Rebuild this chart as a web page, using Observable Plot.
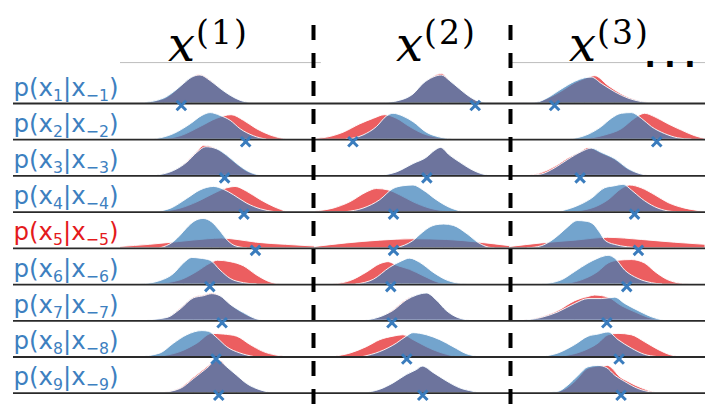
<!DOCTYPE html>
<html><head><meta charset="utf-8">
<script src="https://cdn.jsdelivr.net/npm/d3@7"></script>
<script src="https://cdn.jsdelivr.net/npm/@observablehq/plot@0.6"></script>
<style>html,body{margin:0;padding:0;background:#fff;} #chart svg{display:block;}</style>
</head><body><div id="chart"></div>
<script>
// ---- data ----
const rowIndex = [1, 2, 3, 4, 5, 6, 7, 8, 9];
const highlightedRow = 5;
const columnTitles = ["(1)", "(2)", "(3)"];

// each curve: [value, density] pairs, one curve per row (x_1 .. x_9)
const redX1 = [
  [[-4,0],[-2.77,.06],[-2.26,.15],[-1.74,.28],[-1.32,.37],[-0.95,.41],[-0.38,.33],[0.13,.21],[0.65,.11],[1.15,.04],[1.85,0]],
  [[-3.1,0],[-1.9,.05],[-0.9,.18],[-0.04,.30],[0.7,.35],[1.33,.27],[2.0,.15],[2.7,.06],[3.55,0]],
  [[-3.3,0],[-2.26,.07],[-1.57,.20],[-1.06,.34],[-0.7,.43],[-0.04,.38],[0.47,.28],[0.99,.16],[1.5,.06],[2.2,0]],
  [[-3.1,0],[-1.92,.05],[-1.06,.14],[-0.2,.26],[0.47,.34],[0.9,.36],[1.5,.29],[2.2,.17],[2.9,.07],[3.55,0]],
  [[-5,.02],[-3.5,.05],[-2,.09],[-0.5,.13],[0.2,.14],[1,.12],[2,.08],[3.5,.05],[5,.025]],
  [[-3.3,0],[-1.92,.06],[-1.06,.18],[-0.38,.30],[0,.34],[0.65,.32],[1.33,.26],[2.0,.13],[2.7,.03],[3.2,0]],
  [[-4,0],[-2.6,.04],[-1.92,.17],[-1.24,.33],[-0.73,.36],[-0.3,.39],[0.13,.35],[0.64,.23],[1.33,.10],[2.0,.02],[2.5,0]],
  [[-3.1,0],[-1.92,.07],[-1.06,.19],[-0.3,.33],[0.3,.32],[0.98,.29],[1.67,.17],[2.35,.07],[3.0,.02],[3.55,0]],
  [[-2.95,0],[-1.92,.07],[-1.24,.22],[-0.55,.37],[-0.1,.46],[0.13,.46],[0.47,.37],[0.98,.25],[1.5,.13],[2.2,.04],[2.9,0]]
];
const blueX1 = [
  [[-4,0],[-2.77,.07],[-2.26,.16],[-1.74,.28],[-1.32,.37],[-0.9,.40],[-0.38,.32],[0.13,.21],[0.65,.11],[1.15,.04],[1.85,0]],
  [[-3.3,0],[-2.26,.08],[-1.4,.22],[-0.8,.34],[-0.38,.38],[0.13,.34],[0.65,.27],[1.16,.15],[1.84,.05],[2.5,0]],
  [[-3.3,0],[-2.26,.07],[-1.57,.19],[-1.06,.33],[-0.6,.41],[-0.04,.38],[0.47,.29],[0.99,.17],[1.5,.07],[2.2,0]],
  [[-3.3,0],[-2.4,.05],[-1.57,.19],[-0.9,.31],[-0.2,.36],[0.3,.32],[0.82,.24],[1.5,.12],[2.2,.04],[2.9,0]],
  [[-2.95,0],[-2.26,.09],[-1.92,.18],[-1.6,.28],[-1.2,.38],[-0.74,.42],[-0.3,.37],[0.1,.25],[0.5,.11],[0.9,.03],[1.5,0]],
  [[-4,0],[-2.95,.05],[-2.26,.15],[-1.75,.30],[-1.32,.38],[-0.9,.37],[-0.38,.34],[0.13,.20],[0.65,.08],[1.33,.02],[2,0]],
  [[-4,0],[-2.6,.04],[-1.92,.16],[-1.24,.32],[-0.73,.35],[-0.3,.38],[0.13,.35],[0.64,.23],[1.33,.11],[2.0,.02],[2.5,0]],
  [[-4,0],[-2.95,.05],[-2.26,.19],[-1.58,.31],[-0.8,.37],[-0.47,.36],[0,.26],[0.47,.14],[1.15,.05],[1.85,0]],
  [[-2.95,0],[-1.92,.06],[-1.24,.20],[-0.55,.35],[-0.04,.46],[0.13,.45],[0.47,.37],[0.98,.25],[1.5,.13],[2.2,.04],[2.9,0]]
];
const redX2 = [
  [[-1.68,0],[-0.66,.04],[0.03,.13],[0.54,.28],[1.05,.38],[1.48,.42],[1.9,.32],[2.42,.20],[2.93,.09],[3.44,.02],[4.1,0]],
  [[-5,.01],[-4.4,.03],[-3.56,.10],[-2.7,.22],[-2.0,.30],[-1.43,.35],[-0.83,.30],[-0.15,.18],[0.54,.08],[1.4,.02],[2.1,0]],
  [[-1.68,0],[-0.83,.05],[0.03,.17],[0.71,.26],[1.14,.36],[1.43,.40],[1.9,.29],[2.42,.19],[2.93,.10],[3.6,.02],[4.1,0]],
  [[-5,.01],[-4.08,.05],[-3.22,.14],[-2.37,.28],[-1.85,.33],[-1.25,.31],[-0.66,.24],[0.03,.14],[0.88,.05],[1.7,.01],[2.2,0]],
  [[-5,.02],[-3.4,.07],[-1.68,.11],[0,.13],[1.73,.12],[3.44,.08],[5,.03]],
  [[-4.1,0],[-3.2,.05],[-2.37,.17],[-1.68,.29],[-1.25,.32],[-0.83,.27],[-0.15,.21],[0.54,.12],[1.4,.02],[2.1,0]],
  [[-2.54,0],[-1.68,.05],[-1.0,.15],[-0.32,.30],[0.2,.36],[0.71,.39],[1.22,.29],[1.73,.14],[2.42,.03],[3.1,0]],
  [[-4.1,0],[-3.2,.05],[-2.37,.14],[-1.68,.24],[-1.0,.29],[-0.49,.31],[0.03,.24],[0.71,.14],[1.4,.06],[2.1,.01],[2.6,0]],
  [[-2.54,0],[-1.68,.05],[-1.0,.14],[-0.32,.26],[0.2,.33],[0.5,.38],[1.05,.29],[1.73,.17],[2.42,.07],[3.1,.02],[3.44,0]]
];
const blueX2 = [
  [[-1.68,0],[-0.66,.04],[0.03,.13],[0.54,.28],[1.05,.37],[1.48,.40],[1.9,.32],[2.42,.20],[2.93,.09],[3.44,.02],[4.1,0]],
  [[-3.4,0],[-2.54,.06],[-1.85,.18],[-1.34,.33],[-1.0,.37],[-0.49,.33],[0.03,.25],[0.71,.10],[1.4,.03],[2.1,0]],
  [[-1.68,0],[-0.83,.05],[0.03,.17],[0.71,.26],[1.14,.36],[1.43,.40],[1.9,.29],[2.42,.19],[2.93,.10],[3.6,.02],[4.1,0]],
  [[-3.4,0],[-2.54,.05],[-1.68,.17],[-1.0,.33],[-0.49,.37],[0.03,.38],[0.54,.31],[1.22,.17],[1.9,.06],[2.6,0]],
  [[-0.83,0],[0,.10],[0.5,.22],[0.9,.30],[1.2,.33],[1.6,.34],[2.1,.32],[2.8,.20],[3.4,.07],[3.9,.01],[4.2,0]],
  [[-2.9,0],[-2.0,.07],[-1.17,.24],[-0.57,.33],[-0.15,.37],[0.37,.31],[1.05,.17],[1.73,.06],[2.42,.01],[2.8,0]],
  [[-2.54,0],[-1.68,.05],[-1.0,.14],[-0.32,.29],[0.2,.36],[0.71,.39],[1.22,.29],[1.73,.14],[2.42,.03],[3.1,0]],
  [[-2.54,0],[-1.68,.07],[-0.83,.19],[-0.32,.29],[0.03,.34],[0.71,.31],[1.4,.24],[2.08,.14],[2.76,.04],[3.44,0]],
  [[-2.54,0],[-1.68,.05],[-1.0,.14],[-0.32,.26],[0.2,.33],[0.5,.38],[1.05,.29],[1.73,.17],[2.42,.07],[3.1,.02],[3.44,0]]
];
const redX3 = [
  [[-4.9,0],[-3.7,.01],[-3.05,.07],[-2.37,.17],[-1.68,.29],[-1.17,.35],[-0.66,.39],[0.03,.25],[0.71,.13],[1.4,.05],[2.1,.01],[2.6,0]],
  [[-1.34,0],[-0.15,.06],[0.71,.15],[1.39,.30],[1.9,.37],[2.42,.32],[3.1,.22],[3.79,.13],[4.47,.05],[5,.01]],
  [[-4.08,0],[-3.4,.04],[-2.7,.13],[-2.03,.25],[-1.34,.35],[-1.0,.40],[-0.32,.32],[0.37,.23],[1.05,.09],[1.73,.02],[2.2,0]],
  [[-2.0,0],[-0.83,.05],[0.03,.17],[0.71,.33],[1.14,.38],[1.73,.34],[2.42,.24],[3.1,.13],[3.96,.05],[4.8,.01],[5,0]],
  [[-5,.02],[-3.4,.07],[-1.68,.11],[0,.15],[1.73,.12],[3.44,.08],[5,.05]],
  [[-2.5,0],[-1.34,.06],[-0.49,.18],[0.03,.30],[0.54,.34],[1.22,.35],[1.9,.30],[2.42,.18],[3.1,.06],[3.79,.01],[4.2,0]],
  [[-4.4,0],[-3.4,.05],[-2.54,.14],[-1.68,.28],[-1.0,.34],[-0.66,.36],[0.03,.33],[0.7,.21],[1.4,.12],[2.1,.04],[2.8,0]],
  [[-2.54,0],[-1.34,.07],[-0.49,.19],[0.03,.31],[0.54,.33],[1.22,.31],[1.9,.21],[2.59,.10],[3.27,.02],[3.8,0]],
  [[-2.9,0],[-2.2,.05],[-1.68,.16],[-1.0,.35],[-0.49,.38],[0.0,.39],[0.3,.33],[0.54,.25],[1.05,.16],[1.73,.07],[2.42,.01],[2.8,0]]
];
const blueX3 = [
  [[-4.9,0],[-3.7,.01],[-3.05,.08],[-2.37,.20],[-1.68,.31],[-1.17,.36],[-0.83,.37],[-0.32,.28],[0.37,.16],[1.05,.07],[1.73,.02],[2.4,0]],
  [[-2.0,0],[-1.0,.07],[-0.32,.18],[0.2,.30],[0.71,.37],[1.22,.38],[1.73,.30],[2.25,.18],[2.93,.08],[3.6,.02],[4.3,0]],
  [[-4.08,0],[-3.4,.02],[-2.7,.11],[-2.03,.23],[-1.34,.34],[-0.83,.39],[-0.32,.33],[0.37,.24],[1.05,.10],[1.73,.02],[2.2,0]],
  [[-2.54,0],[-1.68,.07],[-0.83,.19],[-0.15,.34],[0.37,.37],[0.8,.39],[1.22,.31],[1.73,.19],[2.42,.07],[3.1,.01],[3.5,0]],
  [[-4.1,0],[-3.4,.03],[-2.9,.10],[-2.4,.21],[-2.0,.31],[-1.56,.39],[-1.1,.38],[-0.74,.34],[-0.4,.22],[-0.1,.10],[0.5,.04],[1.2,.01],[1.6,0]],
  [[-3.4,0],[-2.37,.06],[-1.68,.18],[-1.0,.30],[-0.49,.37],[0.03,.41],[0.37,.37],[0.88,.20],[1.56,.08],[2.25,.02],[2.8,0]],
  [[-4.4,0],[-3.4,.04],[-2.54,.12],[-1.68,.24],[-1.0,.31],[-0.32,.31],[0.37,.33],[0.88,.24],[1.56,.14],[2.25,.05],[2.9,0]],
  [[-3.4,0],[-2.54,.05],[-1.68,.17],[-1.0,.29],[-0.49,.32],[0.03,.35],[0.54,.24],[1.22,.12],[1.9,.03],[2.5,0]],
  [[-3.4,0],[-2.54,.02],[-2.03,.11],[-1.5,.25],[-1.0,.37],[-0.49,.39],[-0.06,.36],[0.37,.25],[0.88,.16],[1.56,.06],[2.25,.01],[2.7,0]]
];
// observed value (blue cross) per row
const crossX1 = [-1.88, 1.42, 0.34, 1.33, 1.92, -0.42, 0.21, -0.1, 0.04];
const crossX2 = [3.19, -3.08, 0.71, -1.0, -1.0, -1.14, -1.08, -0.32, 0.5];
const crossX3 = [-2.74, 2.5, -1.43, 1.36, 1.56, 0.96, -0.06, 0.57, 0.67];

// ---- layout ----
const SPAN = 10;              // value units per column
const DENS = 70 / 36.2;       // density -> row units
const TOP = 9.13;             // top rule (row units)
const BLUE = "#377eb8", RED = "#e41a1c";

function flatten(cols, name) {
  const out = [];
  cols.forEach((rows, c) => rows.forEach((pts, r) => pts.forEach(([v, d]) =>
    out.push({key: name + c + "-" + r, x: c * SPAN + v, y1: 8 - r, y2: 8 - r + d * DENS}))));
  return out;
}
const redData = flatten([redX1, redX2, redX3], "r");
const blueData = flatten([blueX1, blueX2, blueX3], "b");
const crossData = [crossX1, crossX2, crossX3].flatMap((vals, c) => vals.map((v, r) => ({x: c * SPAN + v, y: 8 - r})));

const titleMark = (c, dx) => Plot.text([c], {
  x: d => d * SPAN, y: () => TOP, dy: -2, dx, text: d => "x" + columnTitles[d],
  textAnchor: "start", lineAnchor: "bottom", fontFamily: "DejaVu Serif", fontSize: 48, fill: "black"
});

const labelMark = (rows, color) => Plot.text(rows, {
  frameAnchor: "left", y: r => 9 - r, dy: -8, text: r => `p(x${r}|x−${r})`,
  textAnchor: "start", lineAnchor: "bottom", fontFamily: "DejaVu Sans", fontSize: 25, fill: color
});

const svg = Plot.plot({
  width: 705, height: 406,
  marginLeft: 13, marginRight: 0, marginTop: 25, marginBottom: 0,
  x: {domain: [-5, 25], range: [120, 705], axis: null},
  y: {domain: [0, 8], range: [392.7, 103], axis: null},
  style: {background: "white", overflow: "visible"},
  marks: [
    Plot.ruleY([0, 2], {y: () => TOP, x1: c => c * SPAN - 5, x2: c => c * SPAN + 5.3, stroke: "#bdbdbd", strokeWidth: 1}),
    Plot.areaY(redData, {x: "x", y1: "y1", y2: "y2", z: "key", fill: RED, fillOpacity: 0.7, stroke: "white", strokeWidth: 0.9, curve: "monotone-x"}),
    Plot.areaY(blueData, {x: "x", y1: "y1", y2: "y2", z: "key", fill: BLUE, fillOpacity: 0.7, stroke: "white", strokeWidth: 0.9, curve: "monotone-x"}),
    Plot.ruleY(rowIndex, {y: r => 9 - r, stroke: "#2a2a2a", strokeWidth: 1.8}),
    Plot.dot(crossData, {x: "x", y: "y", dy: 2, symbol: "times", r: 4.4, stroke: "#3a7cbd", strokeWidth: 3}),
    Plot.ruleX([5], {dx: -2, stroke: "black", strokeWidth: 4, strokeDasharray: "15,13"}),
    Plot.ruleX([15], {stroke: "black", strokeWidth: 4, strokeDasharray: "15,13"}),
    labelMark(rowIndex.filter(r => r !== highlightedRow), "#3d80c0"),
    labelMark(rowIndex.filter(r => r === highlightedRow), RED),
    titleMark(0, -50),
    titleMark(1, -17),
    titleMark(2, -39),
    Plot.text([2], {x: d => d * SPAN, y: () => TOP, dx: 62, dy: 4, text: () => "...", textAnchor: "middle", lineAnchor: "bottom",
      fontFamily: "DejaVu Sans Mono", fontWeight: "bold", fontSize: 33, fill: "black"})
  ]
});

// subscripts / superscripts
const s = d3.select(svg);
s.selectAll("text").each(function () {
  const content = this.textContent;
  const m = content.match(/^p\(x(\d+)\|x−(\d+)\)$/);
  if (m) {
    const t = d3.select(this).text(null);
    t.append("tspan").text("p(x");
    t.append("tspan").attr("font-size", 16).attr("dy", 5).text(m[1]);
    t.append("tspan").attr("dy", -5).text("|x");
    t.append("tspan").attr("font-size", 16).attr("dy", 5).text("−" + m[2]);
    t.append("tspan").attr("dy", -5).text(")");
    t.attr("textLength", 105).attr("lengthAdjust", "spacingAndGlyphs");
    return;
  }
  const m2 = content.match(/^x(\(\d+\))$/);
  if (m2) {
    const t = d3.select(this).text(null);
    t.append("tspan").attr("font-style", "italic").text("x");
    t.append("tspan").attr("font-size", 33).attr("dy", -17).attr("dx", 1).attr("letter-spacing", 2).text(m2[1]);
  }
});
document.getElementById("chart").appendChild(svg);
</script>
</body></html>
